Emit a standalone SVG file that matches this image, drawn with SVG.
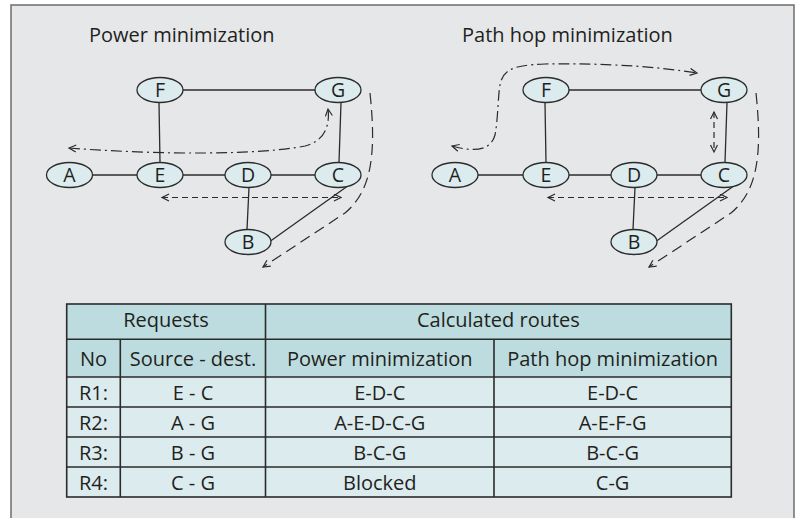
<svg xmlns="http://www.w3.org/2000/svg" width="797" height="518" viewBox="0 0 797 518">
<style>
text{font-family:"Open Sans","Noto Sans","Liberation Sans",sans-serif;fill:#231f20}
.title{font-size:20px}
.nl{font-size:19.5px;text-anchor:middle}
.node ellipse{fill:#dcebee;stroke:#2b2b2b;stroke-width:1.3}
.edge{stroke:#2b2b2b;stroke-width:1.3;fill:none}
.dsh{stroke:#2b2b2b;stroke-width:1.2;fill:none;stroke-dasharray:6 4}
.ldsh{stroke:#2b2b2b;stroke-width:1.2;fill:none;stroke-dasharray:11 6}
.dd{stroke:#2b2b2b;stroke-width:1.2;fill:none;stroke-dasharray:11 4 2 4}
.th{fill:#bddcdf}
.tb{fill:#dcebee}
.tl{stroke:#2b2b2b;stroke-width:1.6;fill:none}
.tt{font-size:20px;text-anchor:middle}
</style>
<defs>
<marker id="ah" markerUnits="userSpaceOnUse" markerWidth="12" markerHeight="10" refX="8" refY="4" orient="auto-start-reverse" viewBox="0 0 12 10">
<path d="M1,0.5 L8,4 L1,7.5" fill="none" stroke="#2b2b2b" stroke-width="1.2"/>
</marker>
</defs>
<rect x="11" y="5" width="783" height="530" fill="#e6e7e9" stroke="#6d6d6d" stroke-width="1.5"/>
<text class="title" x="89" y="42">Power minimization</text>
<text class="title" x="462" y="42">Path hop minimization</text>

<g id="connectors">
<!-- left graph edges -->
<line class="edge" x1="92" y1="175" x2="137" y2="175"/>
<line class="edge" x1="183" y1="175" x2="225" y2="175"/>
<line class="edge" x1="271" y1="175" x2="315" y2="175"/>
<line class="edge" x1="183" y1="90" x2="315" y2="90"/>
<line class="edge" x1="159" y1="102.5" x2="160" y2="162.5"/>
<line class="edge" x1="341" y1="102.5" x2="339" y2="162.5"/>
<line class="edge" x1="249" y1="187.5" x2="247" y2="229.5"/>
<line class="edge" x1="270.5" y1="241" x2="347" y2="186.5"/>
<!-- left graph routes -->
<path class="dsh" d="M162,197.5 L341,197.5" marker-start="url(#ah)" marker-end="url(#ah)"/>
<path class="dd" d="M69,148 C160,155 260,155 305,146 C325,141 330,125 328,109" marker-start="url(#ah)" marker-end="url(#ah)"/>
<path class="ldsh" d="M370,93 C376,150 373,190 345,213 L263,267" marker-end="url(#ah)"/>
<!-- right graph edges -->
<line class="edge" x1="478" y1="175" x2="523" y2="175"/>
<line class="edge" x1="569" y1="175" x2="611" y2="175"/>
<line class="edge" x1="657" y1="175" x2="701" y2="175"/>
<line class="edge" x1="569" y1="90" x2="701" y2="90"/>
<line class="edge" x1="545" y1="102.5" x2="546" y2="162.5"/>
<line class="edge" x1="727" y1="102.5" x2="725" y2="162.5"/>
<line class="edge" x1="635" y1="187.5" x2="633" y2="229.5"/>
<line class="edge" x1="656.5" y1="241" x2="733" y2="186.5"/>
<!-- right graph routes -->
<path class="dsh" d="M548,197.5 L727,197.5" marker-start="url(#ah)" marker-end="url(#ah)"/>
<path class="dsh" d="M714,112 L714,152" marker-start="url(#ah)" marker-end="url(#ah)"/>
<path class="dd" d="M452,146 C470,151 490,153 495,135 C498,120 498,95 500,85 C503,70 512,65 545,64 C610,63 660,67 697,73" marker-start="url(#ah)" marker-end="url(#ah)"/>
<path class="ldsh" d="M756,93 C762,150 759,190 731,213 L649,267" marker-end="url(#ah)"/>
</g>

<!-- left graph nodes -->
<g id="L-A" class="node"><ellipse cx="69.5" cy="175" rx="23" ry="12.5"/><text class="nl" x="69.5" y="182">A</text></g>
<g id="L-E" class="node"><ellipse cx="160" cy="175" rx="23" ry="12.5"/><text class="nl" x="160" y="182">E</text></g>
<g id="L-D" class="node"><ellipse cx="248" cy="175" rx="23" ry="12.5"/><text class="nl" x="248" y="182">D</text></g>
<g id="L-C" class="node"><ellipse cx="338" cy="175" rx="23" ry="12.5"/><text class="nl" x="338" y="182">C</text></g>
<g id="L-F" class="node"><ellipse cx="160" cy="90" rx="23" ry="12.5"/><text class="nl" x="160" y="97">F</text></g>
<g id="L-G" class="node"><ellipse cx="338" cy="90" rx="23" ry="12.5"/><text class="nl" x="338" y="97">G</text></g>
<g id="L-B" class="node"><ellipse cx="248" cy="242" rx="23" ry="12.5"/><text class="nl" x="248" y="249">B</text></g>
<!-- right graph nodes -->
<g id="R-A" class="node"><ellipse cx="455" cy="175" rx="23" ry="12.5"/><text class="nl" x="455" y="182">A</text></g>
<g id="R-E" class="node"><ellipse cx="546" cy="175" rx="23" ry="12.5"/><text class="nl" x="546" y="182">E</text></g>
<g id="R-D" class="node"><ellipse cx="634" cy="175" rx="23" ry="12.5"/><text class="nl" x="634" y="182">D</text></g>
<g id="R-C" class="node"><ellipse cx="724" cy="175" rx="23" ry="12.5"/><text class="nl" x="724" y="182">C</text></g>
<g id="R-F" class="node"><ellipse cx="546" cy="90" rx="23" ry="12.5"/><text class="nl" x="546" y="97">F</text></g>
<g id="R-G" class="node"><ellipse cx="724" cy="90" rx="23" ry="12.5"/><text class="nl" x="724" y="97">G</text></g>
<g id="R-B" class="node"><ellipse cx="634" cy="242" rx="23" ry="12.5"/><text class="nl" x="634" y="249">B</text></g>

<g id="table">
<rect class="th" x="66.7" y="304" width="664.6" height="73"/>
<rect class="tb" x="66.7" y="377" width="664.6" height="120"/>
<rect class="tl" x="66.7" y="304" width="664.6" height="193"/>
<path class="tl" d="M66.7,339.3 H731.3 M66.7,377 H731.3 M66.7,407 H731.3 M66.7,437 H731.3 M66.7,467 H731.3 M120.3,339.3 V497 M265.5,304 V497 M494,339.3 V497"/>
<text class="tt" x="166" y="327.3">Requests</text>
<text class="tt" x="498.4" y="327.3">Calculated routes</text>
<text class="tt" x="93.5" y="365.7">No</text>
<text class="tt" x="193" y="365.7">Source - dest.</text>
<text class="tt" x="379.8" y="365.7">Power minimization</text>
<text class="tt" x="612.6" y="365.7">Path hop minimization</text>
<text class="tt" x="93.5" y="400.3">R1:</text>
<text class="tt" x="193" y="400.3">E - C</text>
<text class="tt" x="379.8" y="400.3">E-D-C</text>
<text class="tt" x="612.6" y="400.3">E-D-C</text>
<text class="tt" x="93.5" y="430.3">R2:</text>
<text class="tt" x="193" y="430.3">A - G</text>
<text class="tt" x="379.8" y="430.3">A-E-D-C-G</text>
<text class="tt" x="612.6" y="430.3">A-E-F-G</text>
<text class="tt" x="93.5" y="460.3">R3:</text>
<text class="tt" x="193" y="460.3">B - G</text>
<text class="tt" x="379.8" y="460.3">B-C-G</text>
<text class="tt" x="612.6" y="460.3">B-C-G</text>
<text class="tt" x="93.5" y="490.3">R4:</text>
<text class="tt" x="193" y="490.3">C - G</text>
<text class="tt" x="379.8" y="490.3">Blocked</text>
<text class="tt" x="612.6" y="490.3">C-G</text>
</g>
</svg>
